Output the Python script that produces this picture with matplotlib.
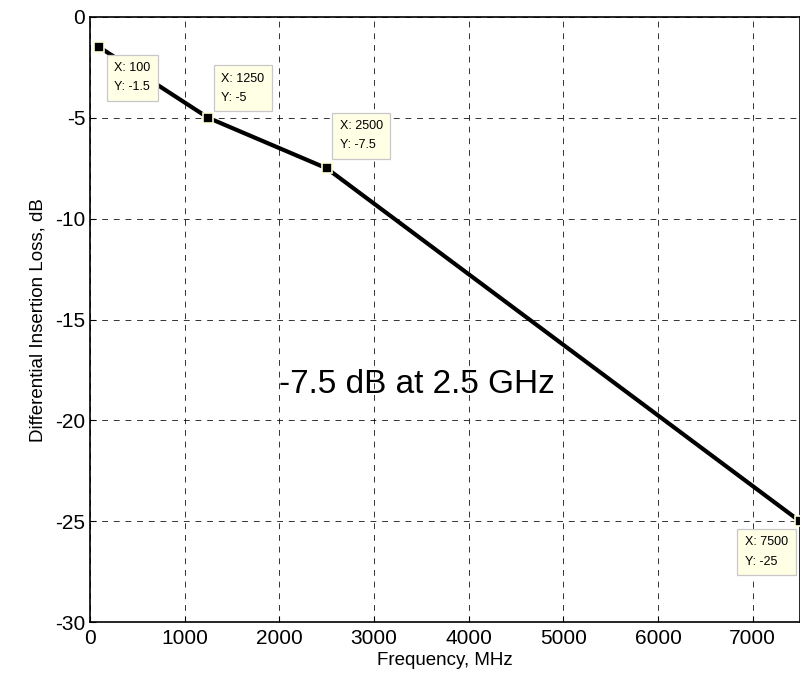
import matplotlib.pyplot as plt

plt.rcParams["font.family"] = ["Liberation Sans", "DejaVu Sans"]
plt.rcParams["axes.unicode_minus"] = False

freq = [100, 1250, 2500, 7500]
loss = [-1.5, -5, -7.5, -25]
x_ticks = [0, 1000, 2000, 3000, 4000, 5000, 6000, 7000]
y_ticks = [0, -5, -10, -15, -20, -25, -30]

fig = plt.figure(figsize=(8, 6.8), dpi=100)
ax = fig.add_axes([0.1125, 0.085, 0.8875, 0.89])

ax.plot(freq, loss, color="black", linewidth=3, marker="s", markersize=7,
        markerfacecolor="black", markeredgecolor="#ffffd8", markeredgewidth=1.2,
        clip_on=False, zorder=3)

# data tips: (dx, dy in pixels, ha, va)
tip_pos = [(15, -15, "left", "top"), (13, 14, "left", "bottom"),
           (13, 17, "left", "bottom"), (-12, -15, "right", "top")]
for x, y, (dx, dy, ha, va) in zip(freq, loss, tip_pos):
    ax.annotate(f"X: {x}\nY: {y:g}", xy=(x, y), xytext=(dx, dy), textcoords="offset pixels",
                ha=ha, va=va, multialignment="left", fontsize=9, linespacing=1.8,
                bbox=dict(boxstyle="square,pad=0.6", fc="#ffffe6", ec="#c8c8c8", lw=0.9),
                zorder=4)

ax.text(3454, -18.2, "-7.5 dB at 2.5 GHz", fontsize=24, ha="center", va="center")

ax.set_xlim(0, 7500)
ax.set_ylim(-30, 0)
ax.set_xticks(x_ticks)
ax.set_yticks(y_ticks)
ax.tick_params(direction="in", labelsize=15, length=4)
ax.tick_params(axis="x", pad=5)
ax.set_xlabel("Frequency, MHz", fontsize=13.5, labelpad=3)
ax.set_ylabel("Differential Insertion Loss, dB", fontsize=13.5, labelpad=6)
ax.grid(True, color="black", linestyle=(0, (6, 6)), linewidth=0.7, alpha=0.8)
for s in ax.spines.values():
    s.set_linewidth(1.2)

fig.savefig("out.png")
